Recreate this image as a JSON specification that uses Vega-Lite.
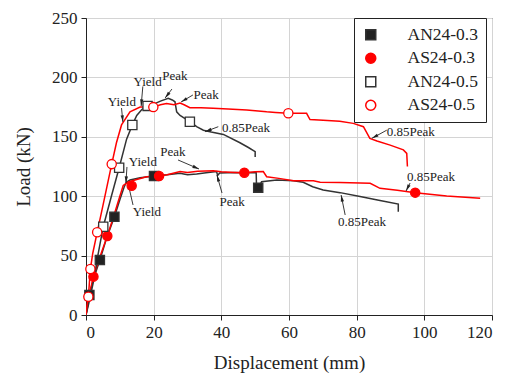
{
  "$schema": "https://vega.github.io/schema/vega-lite/v6.json",
  "width": 406,
  "height": 297,
  "autosize": {"type": "none"},
  "padding": {"left": 86, "top": 18, "right": 19, "bottom": 63},
  "background": "white",
  "config": {
    "view": {"stroke": "#222", "strokeWidth": 1},
    "axis": {
      "labelFont": "Liberation Serif", "titleFont": "Liberation Serif",
      "labelFontSize": 17, "titleFontSize": 19, "titleFontWeight": "normal",
      "labelColor": "#222", "titleColor": "#222", "domainColor": "#222", "tickColor": "#222",
      "grid": true, "gridWidth": 1, "labelPadding": 4
    },
    "legend": {
      "title": null, "orient": "none", "legendX": 268, "legendY": 0,
      "strokeColor": "#222", "fillColor": "white", "padding": 8,
      "labelFont": "Liberation Serif", "labelFontSize": 17.5, "labelColor": "#222",
      "symbolSize": 100, "symbolStrokeWidth": 1.5, "rowPadding": 4.5, "labelOffset": 28
    }
  },
  "datasets": {
    "curves": [
      {"s": "AN24-0.3", "i": 1, "x": 0, "y": 0},
      {"s": "AN24-0.3", "i": 2, "x": 0.5, "y": 8},
      {"s": "AN24-0.3", "i": 3, "x": 1, "y": 16.8},
      {"s": "AN24-0.3", "i": 4, "x": 2, "y": 28},
      {"s": "AN24-0.3", "i": 5, "x": 3, "y": 37},
      {"s": "AN24-0.3", "i": 6, "x": 4.1, "y": 46.3},
      {"s": "AN24-0.3", "i": 7, "x": 6, "y": 64},
      {"s": "AN24-0.3", "i": 8, "x": 8.4, "y": 82.7},
      {"s": "AN24-0.3", "i": 9, "x": 10, "y": 97},
      {"s": "AN24-0.3", "i": 10, "x": 11.3, "y": 108},
      {"s": "AN24-0.3", "i": 11, "x": 12, "y": 112},
      {"s": "AN24-0.3", "i": 12, "x": 13, "y": 113.6},
      {"s": "AN24-0.3", "i": 13, "x": 16, "y": 115.5},
      {"s": "AN24-0.3", "i": 14, "x": 20.1, "y": 117},
      {"s": "AN24-0.3", "i": 15, "x": 24, "y": 118},
      {"s": "AN24-0.3", "i": 16, "x": 27.8, "y": 119.3},
      {"s": "AN24-0.3", "i": 17, "x": 30, "y": 118},
      {"s": "AN24-0.3", "i": 18, "x": 32.7, "y": 118.7},
      {"s": "AN24-0.3", "i": 19, "x": 35.5, "y": 119.8},
      {"s": "AN24-0.3", "i": 20, "x": 38.6, "y": 120.7},
      {"s": "AN24-0.3", "i": 21, "x": 38.9, "y": 117.5},
      {"s": "AN24-0.3", "i": 22, "x": 39.5, "y": 119.5},
      {"s": "AN24-0.3", "i": 23, "x": 44, "y": 120},
      {"s": "AN24-0.3", "i": 24, "x": 47.5, "y": 119.8},
      {"s": "AN24-0.3", "i": 25, "x": 50.3, "y": 120},
      {"s": "AN24-0.3", "i": 26, "x": 50.4, "y": 108},
      {"s": "AN24-0.3", "i": 27, "x": 51, "y": 107},
      {"s": "AN24-0.3", "i": 28, "x": 51.9, "y": 112.2},
      {"s": "AN24-0.3", "i": 29, "x": 56.4, "y": 113.6},
      {"s": "AN24-0.3", "i": 30, "x": 61.3, "y": 113},
      {"s": "AN24-0.3", "i": 31, "x": 64.2, "y": 111.7},
      {"s": "AN24-0.3", "i": 32, "x": 67, "y": 108},
      {"s": "AN24-0.3", "i": 33, "x": 70.1, "y": 105.2},
      {"s": "AN24-0.3", "i": 34, "x": 75.1, "y": 103},
      {"s": "AN24-0.3", "i": 35, "x": 81, "y": 99.7},
      {"s": "AN24-0.3", "i": 36, "x": 86.9, "y": 96.3},
      {"s": "AN24-0.3", "i": 37, "x": 92.3, "y": 93.4},
      {"s": "AN24-0.3", "i": 38, "x": 92.3, "y": 87},

      {"s": "AS24-0.3", "i": 1, "x": 0, "y": 0},
      {"s": "AS24-0.3", "i": 2, "x": 0.5, "y": 8},
      {"s": "AS24-0.3", "i": 3, "x": 1, "y": 18},
      {"s": "AS24-0.3", "i": 4, "x": 2.2, "y": 32},
      {"s": "AS24-0.3", "i": 5, "x": 4, "y": 48},
      {"s": "AS24-0.3", "i": 6, "x": 6.3, "y": 66.5},
      {"s": "AS24-0.3", "i": 7, "x": 8.5, "y": 86},
      {"s": "AS24-0.3", "i": 8, "x": 10, "y": 100},
      {"s": "AS24-0.3", "i": 9, "x": 11, "y": 109},
      {"s": "AS24-0.3", "i": 10, "x": 12.5, "y": 112},
      {"s": "AS24-0.3", "i": 11, "x": 15, "y": 114},
      {"s": "AS24-0.3", "i": 12, "x": 17.9, "y": 116.4},
      {"s": "AS24-0.3", "i": 13, "x": 21.6, "y": 117},
      {"s": "AS24-0.3", "i": 14, "x": 24, "y": 118},
      {"s": "AS24-0.3", "i": 15, "x": 27.8, "y": 120.7},
      {"s": "AS24-0.3", "i": 16, "x": 30, "y": 120},
      {"s": "AS24-0.3", "i": 17, "x": 33, "y": 121},
      {"s": "AS24-0.3", "i": 18, "x": 37.6, "y": 121.5},
      {"s": "AS24-0.3", "i": 19, "x": 40, "y": 120.5},
      {"s": "AS24-0.3", "i": 20, "x": 44, "y": 120},
      {"s": "AS24-0.3", "i": 21, "x": 46.8, "y": 119.8},
      {"s": "AS24-0.3", "i": 22, "x": 50, "y": 120.5},
      {"s": "AS24-0.3", "i": 23, "x": 52.4, "y": 120.7},
      {"s": "AS24-0.3", "i": 24, "x": 53.4, "y": 116.4},
      {"s": "AS24-0.3", "i": 25, "x": 57, "y": 115},
      {"s": "AS24-0.3", "i": 26, "x": 61.3, "y": 113},
      {"s": "AS24-0.3", "i": 27, "x": 67.2, "y": 113},
      {"s": "AS24-0.3", "i": 28, "x": 69.2, "y": 111.7},
      {"s": "AS24-0.3", "i": 29, "x": 75, "y": 111.5},
      {"s": "AS24-0.3", "i": 30, "x": 84, "y": 110.8},
      {"s": "AS24-0.3", "i": 31, "x": 86.9, "y": 106.6},
      {"s": "AS24-0.3", "i": 32, "x": 92, "y": 105},
      {"s": "AS24-0.3", "i": 33, "x": 97.3, "y": 103},
      {"s": "AS24-0.3", "i": 34, "x": 106.6, "y": 100.2},
      {"s": "AS24-0.3", "i": 35, "x": 116.5, "y": 98.2},

      {"s": "AN24-0.5", "i": 1, "x": 0, "y": 0},
      {"s": "AN24-0.5", "i": 2, "x": 1, "y": 12},
      {"s": "AN24-0.5", "i": 3, "x": 2.5, "y": 32},
      {"s": "AN24-0.5", "i": 4, "x": 3.5, "y": 50},
      {"s": "AN24-0.5", "i": 5, "x": 5.1, "y": 74.3},
      {"s": "AN24-0.5", "i": 6, "x": 7.5, "y": 100},
      {"s": "AN24-0.5", "i": 7, "x": 9.8, "y": 124},
      {"s": "AN24-0.5", "i": 8, "x": 12, "y": 148},
      {"s": "AN24-0.5", "i": 9, "x": 13.7, "y": 160},
      {"s": "AN24-0.5", "i": 10, "x": 15, "y": 168},
      {"s": "AN24-0.5", "i": 11, "x": 16.5, "y": 173},
      {"s": "AN24-0.5", "i": 12, "x": 18.2, "y": 176},
      {"s": "AN24-0.5", "i": 13, "x": 20, "y": 177.5},
      {"s": "AN24-0.5", "i": 14, "x": 22, "y": 180},
      {"s": "AN24-0.5", "i": 15, "x": 24.3, "y": 182.4},
      {"s": "AN24-0.5", "i": 16, "x": 25.5, "y": 181},
      {"s": "AN24-0.5", "i": 17, "x": 26.3, "y": 179.5},
      {"s": "AN24-0.5", "i": 18, "x": 26.8, "y": 171},
      {"s": "AN24-0.5", "i": 19, "x": 27.8, "y": 168},
      {"s": "AN24-0.5", "i": 20, "x": 30.7, "y": 162.7},
      {"s": "AN24-0.5", "i": 21, "x": 32.7, "y": 158.5},
      {"s": "AN24-0.5", "i": 22, "x": 34.7, "y": 155.5},
      {"s": "AN24-0.5", "i": 23, "x": 37, "y": 154},
      {"s": "AN24-0.5", "i": 24, "x": 40.6, "y": 152},
      {"s": "AN24-0.5", "i": 25, "x": 45.5, "y": 145},
      {"s": "AN24-0.5", "i": 26, "x": 48, "y": 141},
      {"s": "AN24-0.5", "i": 27, "x": 50, "y": 137.5},
      {"s": "AN24-0.5", "i": 28, "x": 50, "y": 133},

      {"s": "AS24-0.5", "i": 1, "x": 0, "y": 0},
      {"s": "AS24-0.5", "i": 2, "x": 0.3, "y": 8},
      {"s": "AS24-0.5", "i": 3, "x": 0.7, "y": 15.4},
      {"s": "AS24-0.5", "i": 4, "x": 1.3, "y": 38.7},
      {"s": "AS24-0.5", "i": 5, "x": 2, "y": 52},
      {"s": "AS24-0.5", "i": 6, "x": 3.3, "y": 69.6},
      {"s": "AS24-0.5", "i": 7, "x": 5, "y": 92},
      {"s": "AS24-0.5", "i": 8, "x": 7.6, "y": 127},
      {"s": "AS24-0.5", "i": 9, "x": 9, "y": 145},
      {"s": "AS24-0.5", "i": 10, "x": 10.5, "y": 160},
      {"s": "AS24-0.5", "i": 11, "x": 13, "y": 171},
      {"s": "AS24-0.5", "i": 12, "x": 16, "y": 175},
      {"s": "AS24-0.5", "i": 13, "x": 19.9, "y": 175},
      {"s": "AS24-0.5", "i": 14, "x": 22, "y": 177},
      {"s": "AS24-0.5", "i": 15, "x": 23.8, "y": 178},
      {"s": "AS24-0.5", "i": 16, "x": 26, "y": 177},
      {"s": "AS24-0.5", "i": 17, "x": 27.8, "y": 178.5},
      {"s": "AS24-0.5", "i": 18, "x": 29, "y": 177},
      {"s": "AS24-0.5", "i": 19, "x": 30.7, "y": 174.5},
      {"s": "AS24-0.5", "i": 20, "x": 34, "y": 174.5},
      {"s": "AS24-0.5", "i": 21, "x": 37.6, "y": 174},
      {"s": "AS24-0.5", "i": 22, "x": 42, "y": 173.5},
      {"s": "AS24-0.5", "i": 23, "x": 47.5, "y": 172.6},
      {"s": "AS24-0.5", "i": 24, "x": 53.4, "y": 171},
      {"s": "AS24-0.5", "i": 25, "x": 56, "y": 170.5},
      {"s": "AS24-0.5", "i": 26, "x": 59.8, "y": 169.8},
      {"s": "AS24-0.5", "i": 27, "x": 65.2, "y": 169.8},
      {"s": "AS24-0.5", "i": 28, "x": 66.2, "y": 164.5},
      {"s": "AS24-0.5", "i": 29, "x": 70.1, "y": 164},
      {"s": "AS24-0.5", "i": 30, "x": 75, "y": 163},
      {"s": "AS24-0.5", "i": 31, "x": 79, "y": 161.3},
      {"s": "AS24-0.5", "i": 32, "x": 82, "y": 158.5},
      {"s": "AS24-0.5", "i": 33, "x": 83.9, "y": 148.7},
      {"s": "AS24-0.5", "i": 34, "x": 86, "y": 146.5},
      {"s": "AS24-0.5", "i": 35, "x": 89.9, "y": 143},
      {"s": "AS24-0.5", "i": 36, "x": 93.8, "y": 139},
      {"s": "AS24-0.5", "i": 37, "x": 94.8, "y": 136},
      {"s": "AS24-0.5", "i": 38, "x": 95, "y": 125}
    ],
    "markers": [
      {"s": "AN24-0.3", "x": 1, "y": 16.8},
      {"s": "AN24-0.3", "x": 4.1, "y": 46.3},
      {"s": "AN24-0.3", "x": 8.4, "y": 82.7},
      {"s": "AN24-0.3", "x": 20.1, "y": 117},
      {"s": "AN24-0.3", "x": 50.9, "y": 107.2},
      {"s": "AS24-0.3", "x": 2.2, "y": 32.3},
      {"s": "AS24-0.3", "x": 6.3, "y": 66.5},
      {"s": "AS24-0.3", "x": 13.5, "y": 108.8},
      {"s": "AS24-0.3", "x": 21.6, "y": 117},
      {"s": "AS24-0.3", "x": 46.8, "y": 119.8},
      {"s": "AS24-0.3", "x": 97.3, "y": 103},
      {"s": "AN24-0.5", "x": 5.1, "y": 74.3},
      {"s": "AN24-0.5", "x": 9.8, "y": 124},
      {"s": "AN24-0.5", "x": 13.7, "y": 160},
      {"s": "AN24-0.5", "x": 18.2, "y": 176},
      {"s": "AN24-0.5", "x": 30.7, "y": 162.7},
      {"s": "AS24-0.5", "x": 0.7, "y": 15.4},
      {"s": "AS24-0.5", "x": 1.3, "y": 38.7},
      {"s": "AS24-0.5", "x": 3.3, "y": 69.6},
      {"s": "AS24-0.5", "x": 7.6, "y": 127},
      {"s": "AS24-0.5", "x": 19.9, "y": 175},
      {"s": "AS24-0.5", "x": 59.8, "y": 169.8}
    ],
    "notes": [
      {"t": "Yield", "tx": 18.2, "ty": 196, "x": 16.8, "y": 192.4, "x2": 16.3, "y2": 175.9},
      {"t": "Peak", "tx": 26.3, "ty": 201, "x": 25.4, "y": 190.2, "x2": 23.4, "y2": 182.7},
      {"t": "Yield", "tx": 10.6, "ty": 179.3, "x": 10.5, "y": 174.2, "x2": 10.9, "y2": 162.5},
      {"t": "Peak", "tx": 35.5, "ty": 185.2, "x": 31.6, "y": 185.2, "x2": 28.1, "y2": 179.3},
      {"t": "0.85Peak", "tx": 47.3, "ty": 157.4, "x": 39.1, "y": 158.5, "x2": 35.2, "y2": 154.3},
      {"t": "Peak", "tx": 25.7, "ty": 137.2, "x": 27.2, "y": 130.5, "x2": 33.4, "y2": 122.9},
      {"t": "Yield", "tx": 16.8, "ty": 128.8, "x": 12.1, "y": 124.6, "x2": 11.8, "y2": 111.1},
      {"t": "Yield", "tx": 18, "ty": 86.7, "x": 13.9, "y": 92.6, "x2": 12.4, "y2": 111.1},
      {"t": "Peak", "tx": 43.2, "ty": 95, "x": 40.2, "y": 102.7, "x2": 38.7, "y2": 117.8},
      {"t": "0.85Peak", "tx": 81.6, "ty": 78.3, "x": 76.6, "y": 84.2, "x2": 75.4, "y2": 101},
      {"t": "0.85Peak", "tx": 102, "ty": 116.2, "x": 95.8, "y": 111.1, "x2": 94.6, "y2": 104.4},
      {"t": "0.85Peak", "tx": 96, "ty": 154, "x": 88.9, "y": 155.6, "x2": 84.5, "y2": 148.7}
    ]
  },
  "layer": [
    {
      "data": {"name": "curves"},
      "mark": {"type": "line", "strokeWidth": 1.5, "clip": true},
      "encoding": {
        "x": {"field": "x", "type": "quantitative", "scale": {"domain": [0, 120], "nice": false},
          "axis": {
            "title": "Displacement (mm)", "titlePadding": 13,
            "values": [0, 10, 20, 30, 40, 50, 60, 70, 80, 90, 100, 110, 120],
            "labelExpr": "datum.value % 20 === 0 ? datum.label : ''",
            "tickSize": {"condition": {"test": "datum.value % 20 === 0", "value": 5}, "value": 3},
            "gridColor": {"condition": {"test": "datum.value % 20 === 0", "value": "#d4d4d4"}, "value": "transparent"}
          }},
        "y": {"field": "y", "type": "quantitative", "scale": {"domain": [0, 250], "nice": false},
          "axis": {
            "title": "Load (kN)", "titlePadding": 18,
            "values": [0, 25, 50, 75, 100, 125, 150, 175, 200, 225, 250],
            "labelExpr": "datum.value % 50 === 0 ? datum.label : ''",
            "tickSize": {"condition": {"test": "datum.value % 50 === 0", "value": 5}, "value": 3},
            "gridColor": {"condition": {"test": "datum.value % 50 === 0", "value": "#d4d4d4"}, "value": "transparent"}
          }},
        "order": {"field": "i", "type": "quantitative"},
        "stroke": {"field": "s", "type": "nominal",
          "scale": {"domain": ["AN24-0.3", "AS24-0.3", "AN24-0.5", "AS24-0.5"], "range": ["#333333", "#ff0000", "#333333", "#ff0000"]}}
      }
    },
    {
      "data": {"name": "notes"},
      "mark": {"type": "rule", "strokeWidth": 0.9, "color": "#222"},
      "encoding": {
        "x": {"field": "x", "type": "quantitative"},
        "y": {"field": "y", "type": "quantitative"},
        "x2": {"field": "x2"},
        "y2": {"field": "y2"}
      }
    },
    {
      "data": {"name": "notes"},
      "transform": [
        {"calculate": "atan2((datum.x2 - datum.x) * 406 / 120, (datum.y2 - datum.y) * 297 / 250) * 180 / PI", "as": "ang"}
      ],
      "mark": {"type": "point", "filled": true, "color": "#222", "opacity": 1, "size": 36,
        "shape": "M0,0L-0.55,2.2L0.55,2.2Z", "strokeWidth": 0},
      "encoding": {
        "x": {"field": "x2", "type": "quantitative"},
        "y": {"field": "y2", "type": "quantitative"},
        "angle": {"field": "ang", "type": "quantitative", "scale": null}
      }
    },
    {
      "data": {"name": "notes"},
      "mark": {"type": "text", "font": "Liberation Serif", "fontSize": 13, "color": "#222", "align": "center", "baseline": "middle"},
      "encoding": {
        "x": {"field": "tx", "type": "quantitative"},
        "y": {"field": "ty", "type": "quantitative"},
        "text": {"field": "t"}
      }
    },
    {
      "data": {"name": "markers"},
      "mark": {"type": "point", "size": 85, "strokeWidth": 1.3, "opacity": 1},
      "encoding": {
        "x": {"field": "x", "type": "quantitative"},
        "y": {"field": "y", "type": "quantitative"},
        "stroke": {"field": "s", "type": "nominal"},
        "fill": {"field": "s", "type": "nominal",
          "scale": {"domain": ["AN24-0.3", "AS24-0.3", "AN24-0.5", "AS24-0.5"], "range": ["#222222", "#ff0000", "#ffffff", "#ffffff"]}},
        "shape": {"field": "s", "type": "nominal",
          "scale": {"domain": ["AN24-0.3", "AS24-0.3", "AN24-0.5", "AS24-0.5"], "range": ["square", "circle", "square", "circle"]}}
      }
    }
  ]
}
